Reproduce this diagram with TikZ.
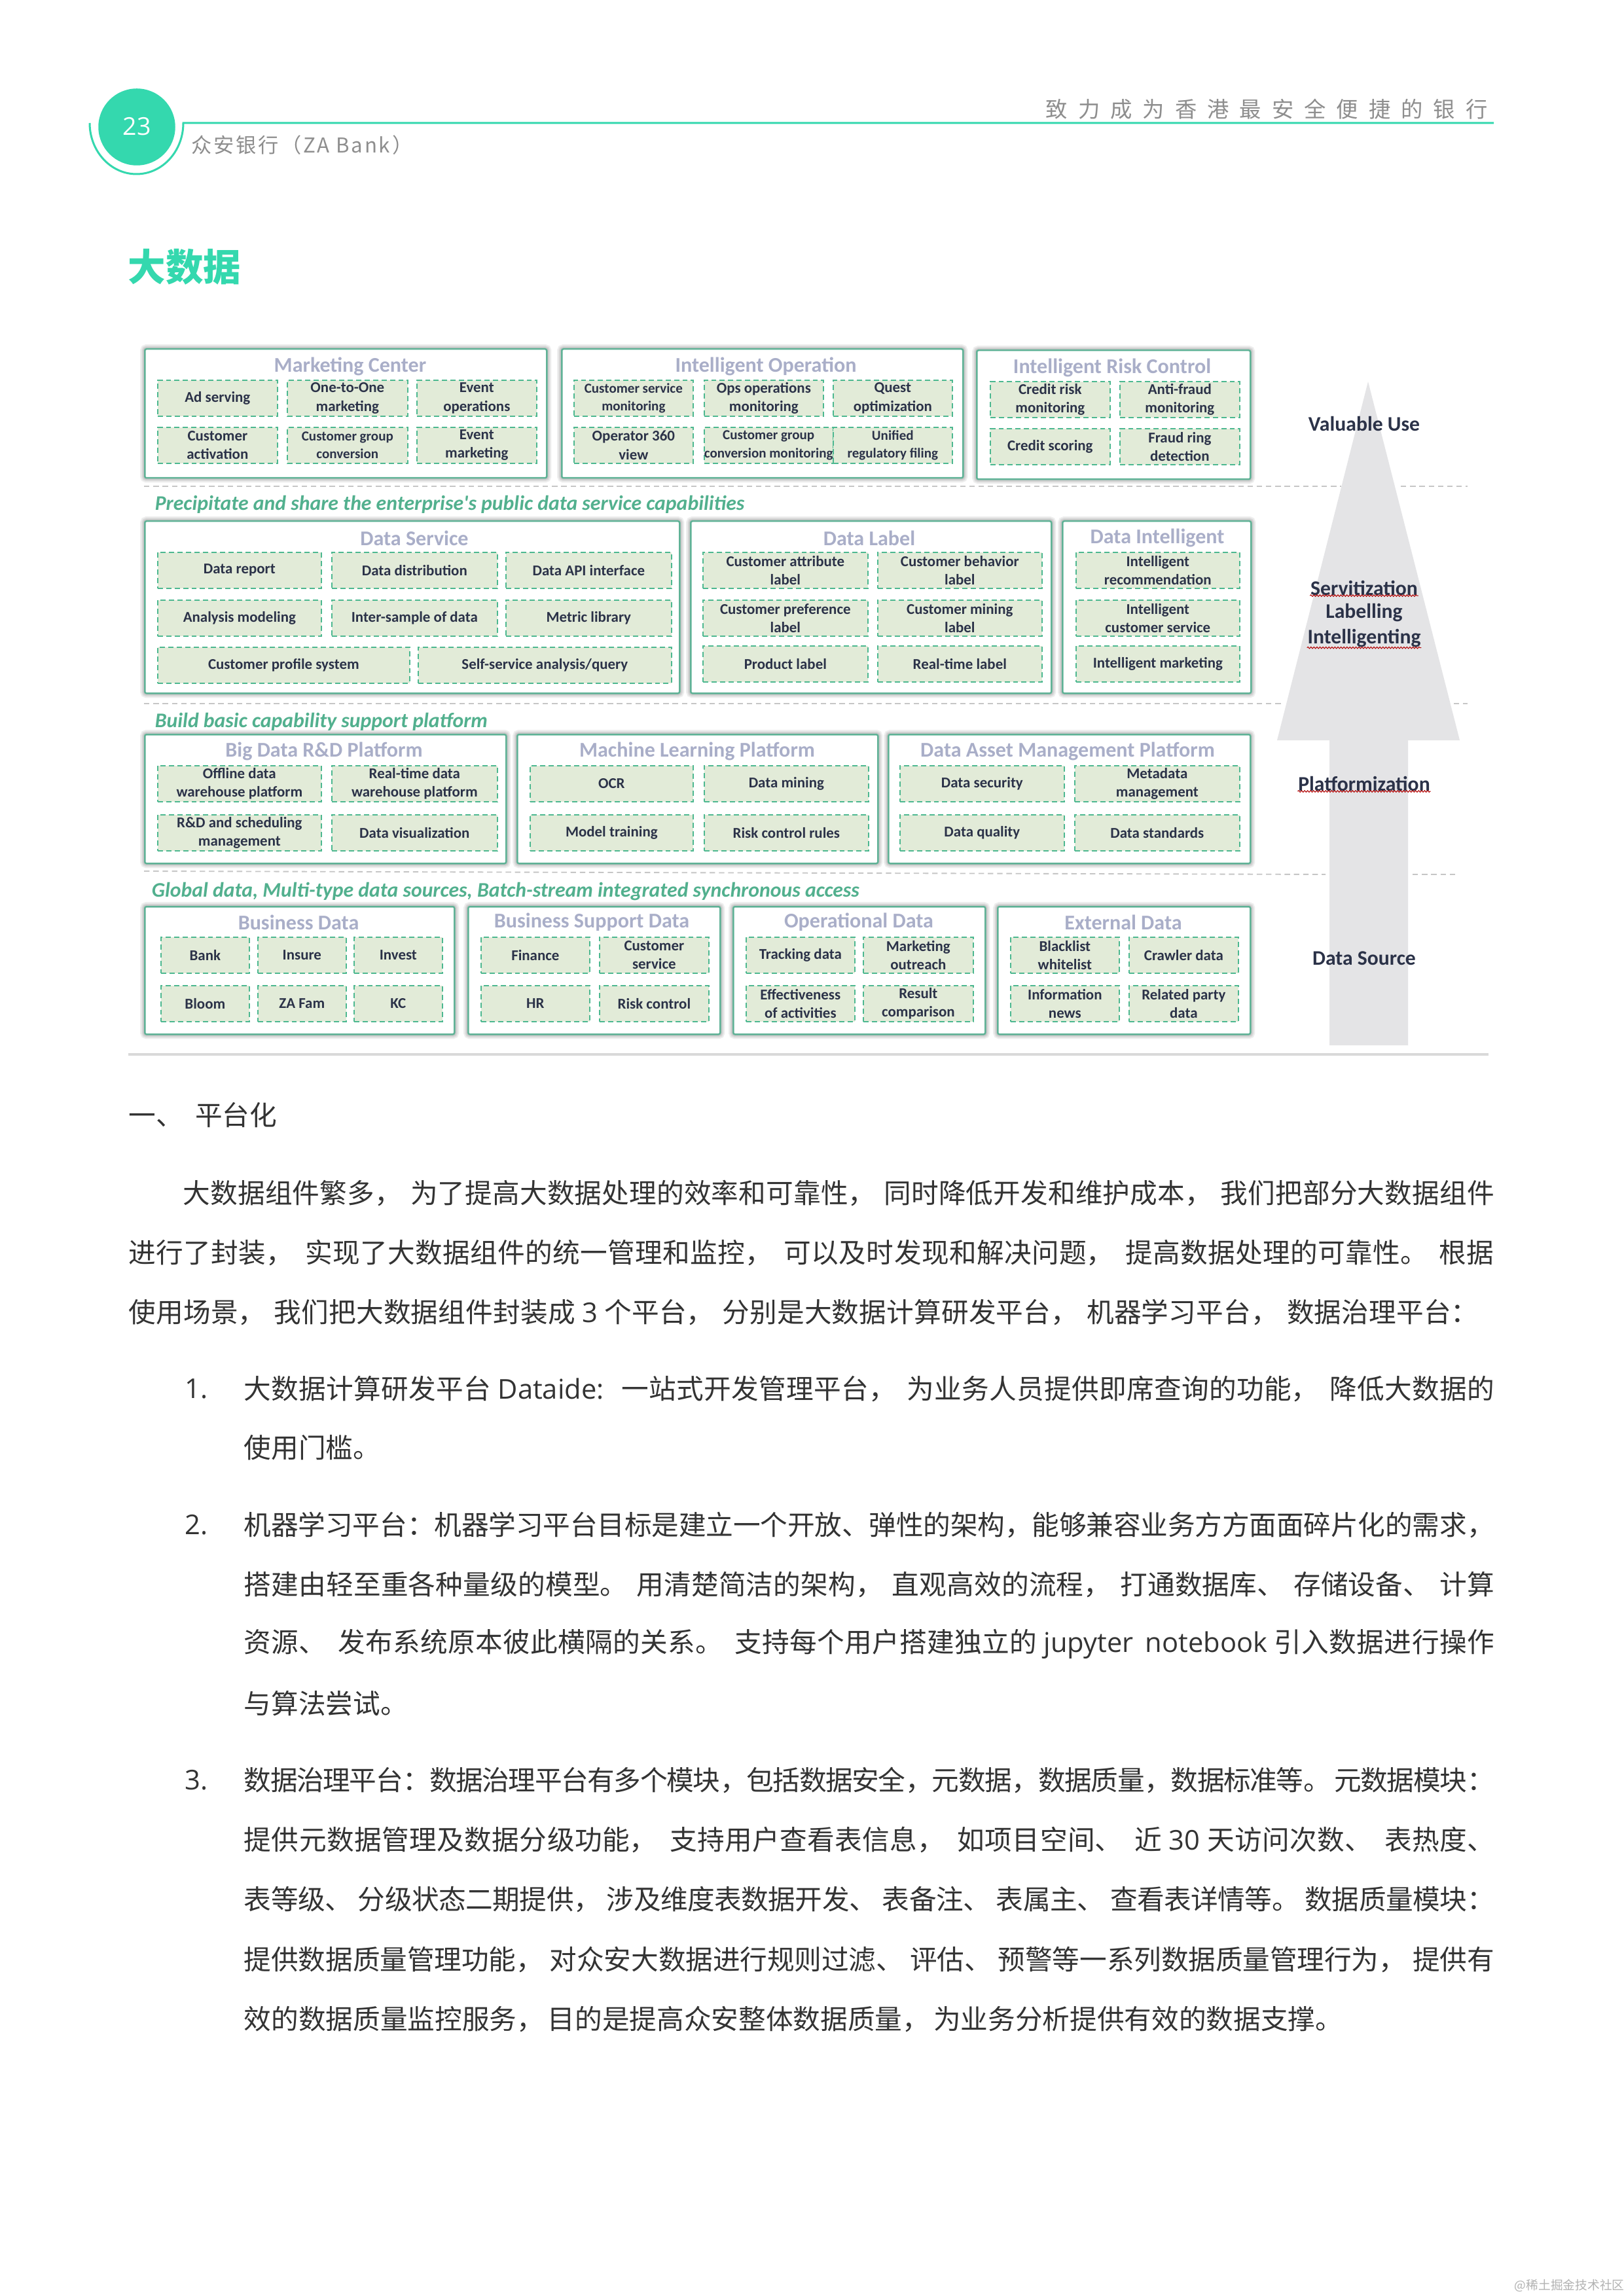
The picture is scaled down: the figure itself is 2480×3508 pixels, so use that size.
\documentclass[tikz,border=0pt]{standalone}
\usepackage{fontspec}
\setmainfont{Noto Sans CJK SC}
\newfontfamily\lat{Open Sans}
\newfontfamily\figfont{Carlito}
\newfontfamily\spaced[LetterSpace=48]{Noto Sans CJK SC}
\newfontfamily\spacedb[LetterSpace=9]{Noto Sans CJK SC}
\usetikzlibrary{decorations.pathmorphing}
\XeTeXlinebreaklocale "zh"
\XeTeXlinebreakskip=0pt plus .5pt minus .4pt
\definecolor{zagreen}{HTML}{34D8AE}
\definecolor{boxline}{HTML}{5FB296}
\definecolor{cellline}{HTML}{4DB890}
\definecolor{cellfill}{HTML}{E2EBD8}
\definecolor{titletxt}{HTML}{A9AEC8}
\definecolor{celltxt}{HTML}{2B3248}
\definecolor{slogan}{HTML}{52B08E}
\definecolor{arrowgray}{HTML}{E4E4E6}
\definecolor{headgray}{HTML}{8E8E8E}
\definecolor{bodytxt}{HTML}{333333}
\tikzset{
  groupbox/.style 2 args={draw=boxline,line width=.6pt,fill=white,rounded corners=.6pt,anchor=north west,
    minimum width=.24pt*#1,minimum height=.24pt*#2,inner sep=0pt,
    preaction={draw=gray,draw opacity=.13,line width=3.4pt},
    preaction={draw=gray,draw opacity=.16,line width=2.4pt},
    preaction={draw=gray,draw opacity=.2,line width=1.5pt}},
  cell/.style={draw=cellline,line width=.4pt,dash pattern=on 1.9pt off 1.2pt,fill=cellfill,anchor=north west,
    minimum width=.24pt*#1,minimum height=13.2pt,inner sep=0pt,align=center,text=celltxt,
    font=\figfont\bfseries\fontsize{5.5}{6.8}\selectfont},
  narrowcell/.style={cell=#1,font=\figfont\bfseries\fontsize{5.05}{6.6}\selectfont},
  grouptitle/.style={inner sep=0pt,text=titletxt,font=\figfont\bfseries\fontsize{7.7}{9}\selectfont},
  slogantext/.style={anchor=west,inner sep=0pt,text=slogan,font=\figfont\bfseries\itshape\fontsize{7.62}{9}\selectfont},
  sidetext/.style={inner sep=0pt,text=celltxt,font=\figfont\bfseries\fontsize{7.6}{9}\selectfont},
  squiggly/.style={draw=red!70!black,line width=.25pt,decorate,decoration={snake,segment length=1.1pt,amplitude=.3pt}},
  sepline/.style={draw=gray!45,line width=.45pt,dash pattern=on 2pt off 1.4pt},
  bodyline/.style={anchor=west,inner sep=0pt,text width=#1,align=justify,text=bodytxt,font=\fontsize{10}{12}\selectfont,
    execute at begin node={\parfillskip=0pt\linepenalty=5000\spaceskip=.25em plus 1em minus .15em\relax}},
  shortline/.style={anchor=west,inner sep=0pt,text=bodytxt,font=\fontsize{10}{12}\selectfont,
    execute at begin node={\spaceskip=.14em\relax}}
}
\begin{document}
\begin{tikzpicture}[x=.24pt,y=-.24pt]
\path[use as bounding box,fill=white] (0,0) rectangle (2480,3508);

\draw[zagreen,line width=.72pt] (137,188) arc[start angle=180,end angle=0,x radius=71.5,y radius=78] -- (2282,188);
\node[circle,fill=zagreen,minimum size=28.2pt,inner sep=0pt,text=white,font=\lat\fontsize{9}{11}\selectfont] (page) at (209,194) {\raisebox{.7pt}{23}};
\node[anchor=west,inner sep=0pt,text=headgray,font=\spaced\fontsize{8}{10}\selectfont] (motto) at (1597,167) {致力成为香港最安全便捷的银行};
\node[anchor=west,inner sep=0pt,text=headgray,font=\spacedb\fontsize{7.5}{10}\selectfont] (bank) at (292,222) {众安银行（ZA Bank）};
\node[anchor=west,inner sep=0pt,text=zagreen,font=\bfseries\fontsize{13.8}{16}\selectfont] (chapter) at (195,408) {大数据};

\draw[sepline] (220,743) -- (2049,743);
\draw[sepline] (2140,743) -- (2242,743);
\draw[sepline] (220,1075) -- (1961,1075);
\draw[sepline] (2221,1075) -- (2242,1075);
\draw[sepline] (220,1331) -- (2025,1336);
\draw[sepline] (2158,1336) -- (2223,1336);
\draw[gray!30,line width=.8pt] (196,1611) -- (2274,1611);

\fill[arrowgray] (2090,583) -- (2230,1131) -- (2151,1131) -- (2151,1597) -- (2031,1597) -- (2031,1131) -- (1951,1131) -- cycle;

\node[groupbox={614}{197}] (mc) at (220,532) {};
\node[groupbox={613}{197}] (io) at (857,532) {};
\node[groupbox={418}{197}] (rc) at (1491,534) {};
\node[groupbox={817}{263}] (ds) at (220,795) {};
\node[groupbox={551}{263}] (dl) at (1054,795) {};
\node[groupbox={288}{263}] (di) at (1622,795) {};
\node[groupbox={552}{197}] (bd) at (220,1121) {};
\node[groupbox={551}{197}] (ml) at (789,1121) {};
\node[groupbox={553}{197}] (da) at (1356,1121) {};
\node[groupbox={473}{195}] (bu) at (220,1384) {};
\node[groupbox={385}{195}] (bs) at (714,1384) {};
\node[groupbox={385}{195}] (op) at (1119,1384) {};
\node[groupbox={386}{195}] (ex) at (1523,1384) {};

\node[grouptitle] (mct) at (535,560) {Marketing Center};
\node[grouptitle] (iot) at (1170,560) {Intelligent Operation};
\node[grouptitle] (rct) at (1699,562) {Intelligent Risk Control};
\node[grouptitle] (dst) at (633,822) {Data Service};
\node[grouptitle] (dlt) at (1328,822) {Data Label};
\node[grouptitle] (dit) at (1768,822) {Data Intelligent};
\node[grouptitle] (bdt) at (495,1148) {Big Data R\&D Platform};
\node[grouptitle] (mlt) at (1065,1148) {Machine Learning Platform};
\node[grouptitle] (dat) at (1631,1148) {Data Asset Management Platform};
\node[grouptitle] (but) at (456,1409) {Business Data};
\node[grouptitle] (bst) at (904,1409) {Business Support Data};
\node[grouptitle] (opt) at (1312,1409) {Operational Data};
\node[grouptitle] (ext) at (1716,1409) {External Data};

\node[cell=183] (mc1) at (240,580) {Ad serving};
\node[cell=184] (mc2) at (438,580) {One-to-One\\marketing};
\node[cell=183] (mc3) at (636,580) {Event\\operations};
\node[cell=183] (mc4) at (240,652) {Customer\\activation};
\node[narrowcell=184] (mc5) at (438,652) {Customer group\\conversion};
\node[cell=183] (mc6) at (636,652) {Event\\marketing};

\node[narrowcell=182] (io1) at (876,580) {Customer service\\monitoring};
\node[cell=182] (io2) at (1075,580) {Ops operations\\monitoring};
\node[cell=182] (io3) at (1272,580) {Quest\\optimization};
\node[cell=182] (io4) at (876,652) {Operator 360\\view};
\node[narrowcell=182] (io5) at (1075,652) {Customer group\\conversion monitoring};
\node[narrowcell=182] (io6) at (1272,652) {Unified\\regulatory filing};

\node[cell=183] (rc1) at (1512,582) {Credit risk\\monitoring};
\node[cell=183] (rc2) at (1710,582) {Anti-fraud\\monitoring};
\node[cell=183] (rc3) at (1512,654) {Credit scoring};
\node[cell=183] (rc4) at (1710,654) {Fraud ring\\detection};

\node[cell=250] (ds1) at (240,843) {Data report};
\node[cell=253] (ds2) at (506,843) {Data distribution};
\node[cell=253] (ds3) at (772,843) {Data API interface};
\node[cell=250] (ds4) at (240,916) {Analysis modeling};
\node[cell=253] (ds5) at (506,916) {Inter-sample of data};
\node[cell=253] (ds6) at (772,916) {Metric library};
\node[cell=385] (ds7) at (240,988) {Customer profile system};
\node[cell=387] (ds8) at (638,988) {Self-service analysis/query};

\node[cell=252] (dl1) at (1073,843) {Customer attribute\\label};
\node[cell=251] (dl2) at (1340,843) {Customer behavior\\label};
\node[cell=252] (dl3) at (1073,916) {Customer preference\\label};
\node[cell=251] (dl4) at (1340,916) {Customer mining\\label};
\node[cell=252] (dl5) at (1073,986) {Product label};
\node[cell=251] (dl6) at (1340,986) {Real-time label};

\node[cell=250] (di1) at (1643,843) {Intelligent\\recommendation};
\node[cell=250] (di2) at (1643,916) {Intelligent\\customer service};
\node[cell=250] (di3) at (1643,986) {Intelligent marketing};

\node[cell=250] (bd1) at (240,1169) {Offline data\\warehouse platform};
\node[cell=253] (bd2) at (506,1169) {Real-time data\\warehouse platform};
\node[cell=250] (bd3) at (240,1244) {R\&D and scheduling\\management};
\node[cell=253] (bd4) at (506,1244) {Data visualization};

\node[cell=249] (ml1) at (809,1169) {OCR};
\node[cell=251] (ml2) at (1075,1169) {Data mining};
\node[cell=249] (ml3) at (809,1244) {Model training};
\node[cell=251] (ml4) at (1075,1244) {Risk control rules};

\node[cell=251] (da1) at (1374,1169) {Data security};
\node[cell=252] (da2) at (1641,1169) {Metadata\\management};
\node[cell=251] (da3) at (1374,1244) {Data quality};
\node[cell=252] (da4) at (1641,1244) {Data standards};

\node[cell=135] (bu1) at (245,1431) {Bank};
\node[cell=135] (bu2) at (393,1431) {Insure};
\node[cell=135] (bu3) at (540,1431) {Invest};
\node[cell=135] (bu4) at (245,1505) {Bloom};
\node[cell=135] (bu5) at (393,1505) {ZA Fam};
\node[cell=135] (bu6) at (540,1505) {KC};

\node[cell=166] (bs1) at (734,1431) {Finance};
\node[cell=167] (bs2) at (915,1431) {Customer\\service};
\node[cell=166] (bs3) at (734,1505) {HR};
\node[cell=167] (bs4) at (915,1505) {Risk control};

\node[cell=166] (op1) at (1139,1431) {Tracking data};
\node[cell=168] (op2) at (1318,1431) {Marketing\\outreach};
\node[cell=166] (op3) at (1139,1505) {Effectiveness\\of activities};
\node[cell=168] (op4) at (1318,1505) {Result\\comparison};

\node[cell=166] (ex1) at (1543,1431) {Blacklist\\whitelist};
\node[cell=167] (ex2) at (1724,1431) {Crawler data};
\node[cell=166] (ex3) at (1543,1505) {Information\\news};
\node[cell=167] (ex4) at (1724,1505) {Related party\\data};

\node[slogantext] (sl1) at (236,771) {Precipitate and share the enterprise's public data service capabilities};
\node[slogantext] (sl2) at (236,1103) {Build basic capability support platform};
\node[slogantext] (sl3) at (231,1362) {Global data, Multi-type data sources, Batch-stream integrated synchronous access};

\node[sidetext] (vu) at (2084,648) {Valuable Use};
\node[sidetext] (sv) at (2084,898) {Servitization};
\node[sidetext] (lb) at (2084,936) {Labelling};
\node[sidetext] (ig) at (2084,975) {Intelligenting};
\node[sidetext] (pf) at (2084,1197) {Platformization};
\node[sidetext] (ss) at (2084,1464) {Data Source};
\draw[squiggly] (sv.south west) -- (sv.south east);
\draw[squiggly] (ig.south west) -- (ig.south east);
\draw[squiggly] (pf.south west) -- (pf.south east);

\node[shortline] (sec) at (196,1704) {一、\hspace{.43em}平台化};

\node[bodyline=480.7pt] (p1) at (279,1823) {大数据组件繁多， 为了提高大数据处理的效率和可靠性， 同时降低开发和维护成本， 我们把部分大数据组件};
\node[bodyline=500.6pt] (p2) at (196,1914) {进行了封装， 实现了大数据组件的统一管理和监控， 可以及时发现和解决问题， 提高数据处理的可靠性。 根据};
\node[bodyline=494.8pt] (p3) at (196,2005) {使用场景， 我们把大数据组件封装成\hspace{.25em}{\lat 3}\hspace{.25em}个平台， 分别是大数据计算研发平台， 机器学习平台， 数据治理平台：};

\node[shortline] (n1) at (282,2122) {\lat 1.};
\node[bodyline=458.4pt] (a1) at (372,2122) {大数据计算研发平台\hspace{.25em}{\lat Dataide:}\hspace{.65em}一站式开发管理平台， 为业务人员提供即席查询的功能， 降低大数据的};
\node[shortline] (a2) at (372,2212) {使用门槛。};

\node[shortline] (n2) at (282,2330) {\lat 2.};
\node[bodyline=458.4pt] (b1) at (372,2330) {机器学习平台：机器学习平台目标是建立一个开放、弹性的架构，能够兼容业务方方面面碎片化的需求，};
\node[bodyline=458.4pt] (b2) at (372,2421) {搭建由轻至重各种量级的模型。 用清楚简洁的架构， 直观高效的流程， 打通数据库、 存储设备、 计算};
\node[bodyline=458.4pt] (b3) at (372,2512) {资源、 发布系统原本彼此横隔的关系。 支持每个用户搭建独立的\hspace{.25em}{\lat jupyter notebook}\hspace{.25em}引入数据进行操作};
\node[shortline] (b4) at (372,2603) {与算法尝试。};

\node[shortline] (n3) at (282,2720) {\lat 3.};
\node[bodyline=458.4pt] (c1) at (372,2720) {数据治理平台：数据治理平台有多个模块，包括数据安全，元数据，数据质量，数据标准等。 元数据模块：};
\node[bodyline=458.4pt] (c2) at (372,2811) {提供元数据管理及数据分级功能， 支持用户查看表信息， 如项目空间、 近\hspace{.25em}{\lat 30}\hspace{.25em}天访问次数、 表热度、};
\node[bodyline=458.4pt] (c3) at (372,2902) {表等级、 分级状态二期提供， 涉及维度表数据开发、 表备注、 表属主、 查看表详情等。 数据质量模块：};
\node[bodyline=458.4pt] (c4) at (372,2994) {提供数据质量管理功能， 对众安大数据进行规则过滤、 评估、 预警等一系列数据质量管理行为， 提供有};
\node[shortline] (c5) at (372,3085) {效的数据质量监控服务， 目的是提高众安整体数据质量， 为业务分析提供有效的数据支撑。};

\node[anchor=west,inner sep=0pt,text=gray!60,font=\fontsize{4.5}{6}\selectfont] (mark) at (2313,3492) {@稀土掘金技术社区};
\end{tikzpicture}
\end{document}
